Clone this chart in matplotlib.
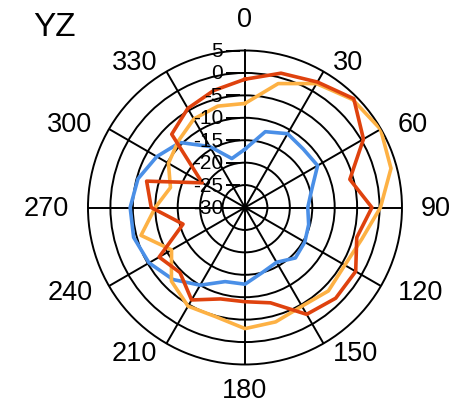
import numpy as np
import matplotlib
matplotlib.use("Agg")
import matplotlib.pyplot as plt
from matplotlib.transforms import offset_copy

plt.rcParams["font.family"] = ["Liberation Sans", "DejaVu Sans"]

# angles of the measured points (deg, clockwise from top)
angles_deg = np.arange(0, 360, 15)

# gain pattern of the three traces (dB)
red_db = [-1.4, 1.0, 2.3, 4.3, 0.5, -5.8, -1.7, -4.2, -1.5, -1.4, -2.5, -8.0,
          -9.0, -8.9, -6.2, -9.5, -7.9, -15.7, -9.1, -7.3, -19.0, -6.9, -4.5, -3.0]
orange_db = [-6.8, -1.4, 1.9, 4.0, 4.9, 3.7, 0.2, -3.0, -4.3, -3.7, -4.6, -3.6,
             -3.0, -4.8, -4.6, -6.8, -11.1, -6.0, -10.0, -12.8, -10.3, -9.0, -7.2, -6.6]
blue_db = [-17.0, -12.5, -11.0, -11.6, -11.3, -14.6, -16.0, -15.3, -14.6, -14.1, -15.9, -15.0,
           -12.9, -12.9, -10.0, -7.3, -5.3, -4.3, -4.4, -5.3, -7.3, -9.5, -14.3, -18.7]

r_ticks = [5, 0, -5, -10, -15, -20, -25, -30]
theta_ticks = list(range(0, 360, 30))

fig = plt.figure(figsize=(4.54, 4.10), dpi=100)
ax = fig.add_axes([0.1938, 0.1085, 0.6916, 0.7659], projection="polar")
ax.set_theta_zero_location("N")
ax.set_theta_direction(-1)
ax.set_ylim(-30, 5)

ax.set_yticks([-25, -20, -15, -10, -5, 0])
ax.set_yticklabels([])
ax.set_xticks(np.deg2rad(theta_ticks))
ax.set_xticklabels([])
ax.tick_params(length=0)
ax.grid(color="black", linewidth=1.4)
ax.spines["polar"].set_linewidth(1.4)

th = np.deg2rad(np.append(angles_deg, angles_deg[0]))
for vals, col in [(blue_db, "#4A8FE7"), (orange_db, "#FDB144"), (red_db, "#DF420E")]:
    ax.plot(th, np.append(vals, vals[0]), color=col, linewidth=2.6, zorder=3)

# angle labels outside the circle: near edge of the text on a ring
px_per_db = 157 / 35.0
for deg in theta_ticks:
    s, c = np.sin(np.deg2rad(deg)), np.cos(np.deg2rad(deg))
    if abs(s) < 0.01:
        ax_px = 0.0
        ay_px = 176 * c if c > 0 else 170 * c
        ha, va = "center", ("bottom" if c > 0 else "top")
    else:
        ax_px, ay_px = 176 * s, 168 * c
        ha, va = ("left" if s > 0 else "right"), "center"
    ang = np.arctan2(ax_px, ay_px)
    rad = -30 + np.hypot(ax_px, ay_px) / px_per_db
    ax.text(ang, rad, str(deg), ha=ha, va=va, fontsize=19.5)

# radial labels left of the 0 spoke, with little dashes
lab_tr = offset_copy(ax.transData, fig=fig, x=-22, y=0, units="dots")
for v in r_ticks:
    ax.text(0, v, str(v), transform=lab_tr, ha="right", va="center", fontsize=15, zorder=4)
tick_tr = offset_copy(ax.transData, fig=fig, x=-12, y=0, units="dots")
ax.plot([0] * 7, r_ticks[:-1], ls="none", marker="_", markersize=9.5,
        markeredgewidth=1.4, color="black", transform=tick_tr, clip_on=False)

fig.text(33 / 454, 1 - 12 / 410, "YZ", fontsize=24, ha="left", va="top")

fig.savefig("out.png", dpi=100)
